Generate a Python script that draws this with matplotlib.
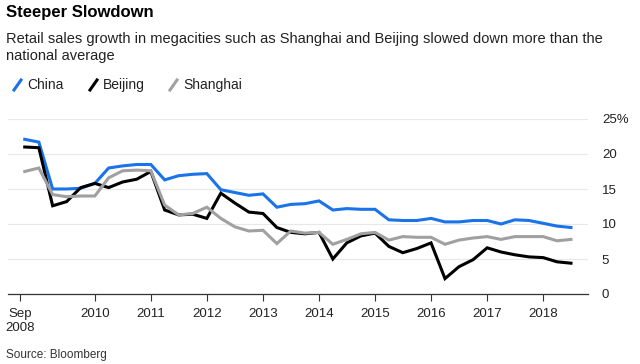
import numpy as np
import pandas as pd
import matplotlib
matplotlib.use('Agg')
import matplotlib.pyplot as plt
import matplotlib.dates as mdates
from matplotlib.lines import Line2D

plt.rcParams['font.family'] = ['Liberation Sans', 'DejaVu Sans']

# Quarterly retail sales growth, % y/y
quarters = pd.date_range('2008-09-30', periods=40, freq='QE')
china = [22.1, 21.7, 15.0, 15.0, 15.1, 15.8, 18.0, 18.3, 18.5, 18.5,
         16.3, 16.9, 17.1, 17.2, 14.9, 14.5, 14.1, 14.3, 12.4, 12.8,
         12.9, 13.3, 12.0, 12.2, 12.1, 12.1, 10.6, 10.5, 10.5, 10.8,
         10.3, 10.3, 10.5, 10.5, 10.0, 10.6, 10.5, 10.1, 9.7, 9.5]
beijing = [21.0, 20.9, 12.6, 13.2, 15.2, 15.8, 15.2, 16.0, 16.4, 17.5,
           12.0, 11.3, 11.4, 10.8, 14.4, 13.0, 11.7, 11.5, 9.5, 8.8,
           8.6, 8.8, 5.0, 7.3, 8.3, 8.7, 6.8, 5.9, 6.5, 7.3,
           2.2, 3.9, 4.9, 6.6, 6.0, 5.6, 5.3, 5.2, 4.6, 4.4]
shanghai = [17.5, 18.0, 14.2, 13.9, 14.0, 14.0, 16.6, 17.6, 17.7, 17.6,
            12.7, 11.3, 11.5, 12.4, 10.8, 9.6, 9.0, 9.1, 7.2, 9.0,
            8.7, 8.8, 7.1, 7.8, 8.6, 8.8, 7.7, 8.2, 8.1, 8.1,
            7.1, 7.7, 8.0, 8.2, 7.8, 8.2, 8.2, 8.2, 7.6, 7.8]

series = [('China', china, '#1a73e8'),
          ('Beijing', beijing, '#000000'),
          ('Shanghai', shanghai, '#a0a0a0')]

tick_dates = pd.to_datetime(['2008-09-01'] + [f'{y}-01-01' for y in range(2010, 2019)])
tick_labels = ['Sep\n2008'] + [str(y) for y in range(2010, 2019)]
y_ticks = [0, 5, 10, 15, 20, 25]
y_labels = ['0', '5', '10', '15', '20', '25%']

fig = plt.figure(figsize=(6.4, 3.64), dpi=100)
ax = fig.add_axes([8 / 640, 1 - 294 / 364, 580 / 640, 175 / 364])

for name, vals, col in series:
    ax.plot(quarters, vals, color=col, lw=2.2, clip_on=False,
            solid_joinstyle='miter', zorder=3)

ax.set_ylim(0, 25)
ax.set_xlim(pd.Timestamp('2008-06-13'), pd.Timestamp('2018-10-19'))

ax.set_yticks(y_ticks)
ax.set_yticklabels(y_labels)
ax.yaxis.tick_right()
ax.tick_params(axis='y', length=0, pad=10, labelsize=9.5, labelcolor='#222222')
for lab in ax.get_yticklabels():
    lab.set_horizontalalignment('left')
ax.grid(axis='y', color='#e8e8e8', lw=0.8)
ax.set_axisbelow(True)

ax.set_xticks(tick_dates)
ax.set_xticklabels(tick_labels)
ax.tick_params(axis='x', length=5, width=0.8, color='#333333', pad=5,
               labelsize=9.5, labelcolor='#222222')

for s in ['top', 'right', 'left']:
    ax.spines[s].set_visible(False)
ax.spines['bottom'].set_color('#333333')
ax.spines['bottom'].set_linewidth(0.9)

# Titles
fig.text(6 / 640, 1 - 5 / 364, 'Steeper Slowdown', fontsize=12, fontweight='bold',
         va='top', ha='left', color='#000000')
fig.text(6 / 640, 1 - 32 / 364,
         'Retail sales growth in megacities such as Shanghai and Beijing slowed down more than the\nnational average',
         fontsize=10.5, va='top', ha='left', color='#222222', linespacing=1.25)

# Legend with slash markers
leg_y = 1 - 85 / 364
for (name, vals, col), x0 in zip(series, [14, 90, 170]):
    fig.add_artist(Line2D([x0 / 640, (x0 + 7) / 640],
                          [leg_y - 5 / 364, leg_y + 5 / 364],
                          transform=fig.transFigure, color=col, lw=2.2))
    fig.text((x0 + 13) / 640, leg_y, name, fontsize=10, va='center', ha='left',
             color='#222222')

fig.text(6 / 640, 1 - 355 / 364, 'Source: Bloomberg', fontsize=8.5, va='center',
         ha='left', color='#333333')

fig.savefig('out.png', dpi=100)
